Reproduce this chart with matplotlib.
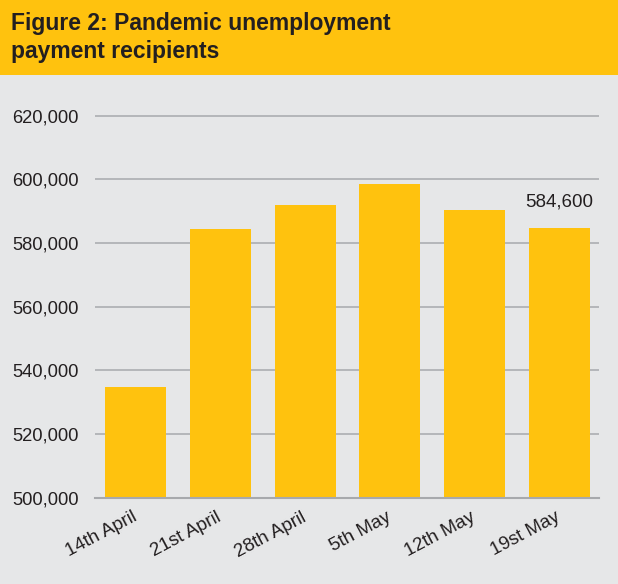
import matplotlib.pyplot as plt
from matplotlib.patches import Rectangle
from matplotlib.ticker import FuncFormatter
from matplotlib.transforms import ScaledTranslation

plt.rcParams['font.family'] = ['Liberation Sans', 'DejaVu Sans']

# data
weeks = ['14th April', '21st April', '28th April', '5th May', '12th May', '19st May']
recipients = [534700, 584500, 591900, 598600, 590300, 584600]
yticks = [500000, 520000, 540000, 560000, 580000, 600000, 620000]

yellow = '#FFC20E'
grey_bg = '#E6E7E8'
grid_col = '#A7A9AC'
text_col = '#231F20'

W, H = 618, 584
fig = plt.figure(figsize=(W / 100, H / 100), dpi=100, facecolor=grey_bg)

# yellow header band with the title
fig.patches.append(Rectangle((0, 1 - 75 / H), 1, 75 / H, transform=fig.transFigure,
                             facecolor=yellow, edgecolor='none', zorder=0))
fig.text(11 / W, 1 - 30 / H, 'Figure 2: Pandemic unemployment', fontsize=16.5,
         fontweight='bold', color=text_col, va='baseline')
fig.text(11 / W, 1 - 58 / H, 'payment recipients', fontsize=16.5,
         fontweight='bold', color=text_col, va='baseline')

ax = fig.add_axes([95 / W, (H - 497.7) / H, 504 / W, (497.7 - 114) / H])
ax.set_facecolor(grey_bg)
ax.bar(range(len(weeks)), recipients, width=0.72, color=yellow, zorder=2)

ax.set_ylim(500000, 620500)
ax.set_xlim(-0.48, len(weeks) - 0.53)
ax.set_yticks(yticks)
ax.yaxis.set_major_formatter(FuncFormatter(lambda v, p: f'{int(v):,}'))
ax.grid(axis='y', color=grid_col, linewidth=1.1, zorder=1)
ax.set_axisbelow(True)
for s in ['top', 'right', 'left']:
    ax.spines[s].set_visible(False)
ax.spines['bottom'].set_color(grid_col)
ax.spines['bottom'].set_linewidth(1.5)

ax.tick_params(axis='y', length=0, pad=12, labelsize=13.2, labelcolor=text_col)
ax.tick_params(axis='x', length=0, pad=8, labelsize=13.5, labelcolor=text_col)
ax.set_xticks(range(len(weeks)))
ax.set_xticklabels(weeks, rotation=28, ha='right', rotation_mode='anchor')
shift = ScaledTranslation(-4 / 100, 0, fig.dpi_scale_trans)
for lab in ax.get_xticklabels():
    lab.set_transform(lab.get_transform() + shift)

# label on the latest bar
ax.annotate(f'{recipients[-1]:,}', (len(weeks) - 1, recipients[-1]),
            xytext=(0, 13), textcoords='offset points', ha='center',
            va='bottom', fontsize=13.5, color=text_col)

fig.savefig('out.png', dpi=100, facecolor=grey_bg)
